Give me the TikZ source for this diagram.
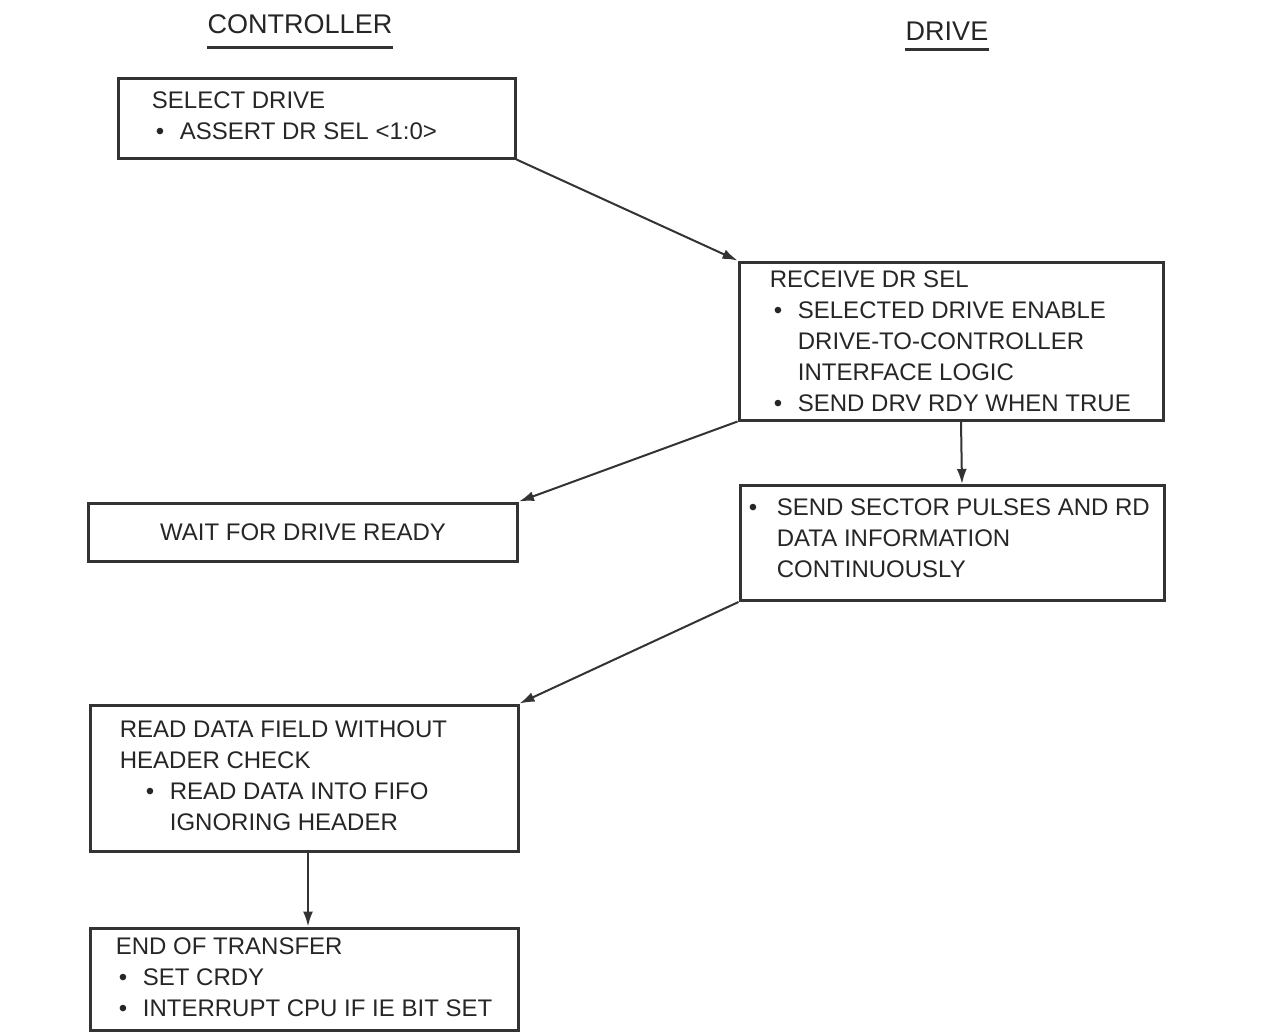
\documentclass[tikz,border=0pt]{standalone}
\usepackage{fontspec}
\setmainfont{Liberation Sans}
\usetikzlibrary{arrows.meta}
\newcommand{\bul}[1][12pt]{\makebox[#1][l]{\textbullet}}

\begin{document}
\begin{tikzpicture}[x=0.5pt, y=-0.5pt,
    blk/.style={draw=black!80, line width=1.5pt, inner sep=0pt},
    txt/.style={inner sep=0pt, align=left, text=black!85, font=\fontsize{12}{15.5}\selectfont},
    head/.style={inner sep=0pt, anchor=base, text=black!85, font=\fontsize{13.5}{16}\selectfont},
    uline/.style={draw=black!80, line width=1.5pt},
    arr/.style={draw=black!80, line width=1pt, -{Latex[length=7.5pt,width=5pt]}}]
    \useasboundingbox (0,0) rectangle (1265,1035);
    % column headings
    \node[head] (ctlH) at (300,33) {CONTROLLER};
    \node[head] (drvH) at (947,40) {DRIVE};
    \draw[uline] ([yshift=-7pt]ctlH.base west) -- ([yshift=-7pt]ctlH.base east);
    \draw[uline] ([yshift=-4.5pt]drvH.base west) -- ([yshift=-4.5pt]drvH.base east);
    % boxes
    \node[blk, minimum width=198.5pt, minimum height=40pt] (sel) at (316.5,118) {};
    \node[blk, minimum width=212pt, minimum height=79pt] (recv) at (951,341) {};
    \node[blk, minimum width=214.5pt, minimum height=29pt] (wait) at (303,532) {};
    \node[blk, minimum width=212pt, minimum height=57.5pt] (sect) at (952,543) {};
    \node[blk, minimum width=214pt, minimum height=73pt] (rdf) at (304,778) {};
    \node[blk, minimum width=214pt, minimum height=51pt] (eot) at (304,979) {};
    % texts
    \node[txt, anchor=west] (selT) at ([xshift=17.5pt,yshift=1pt]sel.west)
        {SELECT DRIVE\\\hspace*{2pt}\bul ASSERT DR SEL <1:0>};
    \node[txt, anchor=west] (recvT) at ([xshift=16pt]recv.west)
        {RECEIVE DR SEL\\
         \hspace*{2pt}\bul SELECTED DRIVE ENABLE\\
         \hspace*{14pt}DRIVE-TO-CONTROLLER\\
         \hspace*{14pt}INTERFACE LOGIC\\
         \hspace*{2pt}\bul SEND DRV RDY WHEN TRUE};
    \node[txt, align=center] (waitT) at (wait.center) {WAIT FOR DRIVE READY};
    \node[txt, anchor=west] (sectT) at ([xshift=5pt,yshift=2.5pt]sect.west)
        {\bul[14pt]SEND SECTOR PULSES AND RD\\
         \hspace*{14pt}DATA INFORMATION\\
         \hspace*{14pt}CONTINUOUSLY};
    \node[txt, anchor=west] (rdfT) at ([xshift=15.5pt,yshift=1pt]rdf.west)
        {READ DATA FIELD WITHOUT\\
         HEADER CHECK\\
         \hspace*{13pt}\bul READ DATA INTO FIFO\\
         \hspace*{25pt}IGNORING HEADER};
    \node[txt, anchor=west] (eotT) at ([xshift=13.5pt,yshift=1pt]eot.west)
        {END OF TRANSFER\\
         \hspace*{1.5pt}\bul SET CRDY\\
         \hspace*{1.5pt}\bul INTERRUPT CPU IF IE BIT SET};
    % connectors
    \draw[arr] (sel.south east) -- (recv.north west);
    \draw[arr] (recv.south west) -- (wait.north east);
    \draw[arr] ([xshift=5pt]recv.south) -- ([xshift=5pt]sect.north);
    \draw[arr] (sect.south west) -- (rdf.north east);
    \draw[arr] ([xshift=2pt]rdf.south) -- ([xshift=2pt]eot.north);
\end{tikzpicture}
\end{document}
